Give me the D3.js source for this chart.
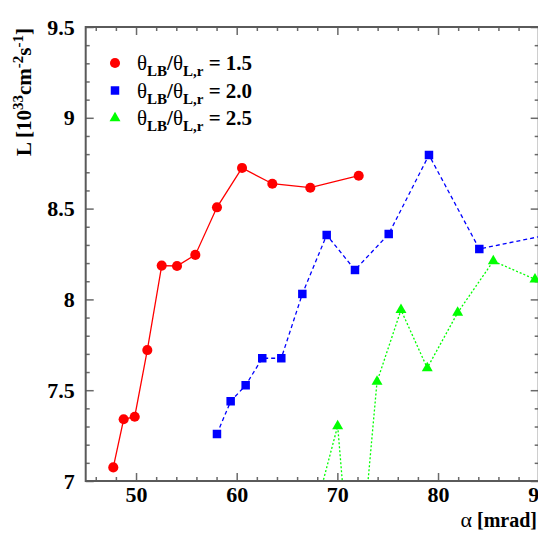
<!DOCTYPE html>
<meta charset="utf-8">
<html>
  <head>
    <script src="https://d3js.org/d3.v7.min.js"></script>
    <style>
      body { margin: 0; background: white; }
      .tick line { stroke: #6a6a6a; stroke-width: 1.5; }
    </style>
  </head>
  <body>
    <div id="chart"></div>
    <script>
      // luminosity vs crossing angle, three ratios of theta_LB / theta_L,r
      const redAlpha   = [47.74, 48.77, 49.87, 51.12, 52.55, 54.07, 55.89, 58.04, 60.53, 63.54, 67.31, 72.12];
      const redL       = [7.075, 7.34, 7.354, 7.721, 8.186, 8.184, 8.245, 8.507, 8.724, 8.637, 8.615, 8.681];
      const blueAlpha  = [58.04, 59.40, 60.89, 62.54, 64.43, 66.52, 68.94, 71.75, 75.10, 79.10, 84.10, 94.0];
      const blueL      = [7.259, 7.439, 7.527, 7.676, 7.676, 8.030, 8.355, 8.162, 8.360, 8.795, 8.278, 8.39];
      const greenAlpha = [67.3, 70.03, 71.72, 73.94, 76.32, 78.93, 81.95, 85.49, 89.63];
      const greenL     = [6.73, 7.303, 6.19, 7.547, 7.942, 7.622, 7.927, 8.211, 8.111];

      const xMajor = [50, 60, 70, 80, 90];
      const xMinor = [46, 48, 52, 54, 56, 58, 62, 64, 66, 68, 72, 74, 76, 78, 82, 84, 86, 88];
      const yMajor = [7, 7.5, 8, 8.5, 9, 9.5];
      const yMinor = [7.1, 7.2, 7.3, 7.4, 7.6, 7.7, 7.8, 7.9, 8.1, 8.2, 8.3, 8.4, 8.6, 8.7, 8.8, 8.9, 9.1, 9.2, 9.3, 9.4];
      const legendLabels = ["1.5", "2.0", "2.5"];

      const width = 538, height = 538;
      const frame = {left: 85.7, right: 538.7, top: 27, bottom: 481};
      const serif = "'Liberation Serif', 'Times New Roman', Times, 'DejaVu Serif', serif";

      const x = d3.scaleLinear().domain([45, 90]).range([frame.left, frame.right]);
      const y = d3.scaleLinear().domain([7, 9.5]).range([frame.bottom, frame.top]);

      const svg = d3.select("#chart").append("svg")
        .attr("width", width)
        .attr("height", height);

      svg.append("defs").append("clipPath").attr("id", "plotClip")
        .append("rect")
        .attr("x", frame.left).attr("y", frame.top)
        .attr("width", frame.right - frame.left)
        .attr("height", frame.bottom - frame.top);

      // ticks inside the frame, like ROOT
      function addAxis(axis, transform, showLabels) {
        const g = svg.append("g").attr("transform", transform).call(axis);
        g.select(".domain").remove();
        if (!showLabels) g.selectAll("text").remove();
        g.selectAll("text")
          .style("font-family", serif)
          .style("font-weight", "bold")
          .style("font-size", "22px")
          .attr("fill", "black");
        return g;
      }
      const noFmt = () => "";

      addAxis(d3.axisBottom(x).tickValues(xMajor).tickSizeInner(-8).tickSizeOuter(0).tickPadding(5).tickFormat(d3.format("d")),
        `translate(0,${frame.bottom})`, true);
      addAxis(d3.axisBottom(x).tickValues(xMinor).tickSizeInner(-4).tickSizeOuter(0).tickFormat(noFmt), `translate(0,${frame.bottom})`, false);
      addAxis(d3.axisTop(x).tickValues(xMajor).tickSizeInner(-8).tickSizeOuter(0).tickFormat(noFmt), `translate(0,${frame.top})`, false);
      addAxis(d3.axisTop(x).tickValues(xMinor).tickSizeInner(-4).tickSizeOuter(0).tickFormat(noFmt), `translate(0,${frame.top})`, false);

      addAxis(d3.axisLeft(y).tickValues(yMajor).tickSizeInner(-8).tickSizeOuter(0).tickPadding(11).tickFormat(d => String(d)),
        `translate(${frame.left},0)`, true);
      addAxis(d3.axisLeft(y).tickValues(yMinor).tickSizeInner(-4).tickSizeOuter(0).tickFormat(noFmt), `translate(${frame.left},0)`, false);
      addAxis(d3.axisRight(y).tickValues(yMajor).tickSizeInner(-8).tickSizeOuter(0).tickFormat(noFmt), `translate(${frame.right},0)`, false);
      addAxis(d3.axisRight(y).tickValues(yMinor).tickSizeInner(-4).tickSizeOuter(0).tickFormat(noFmt), `translate(${frame.right},0)`, false);

      svg.append("rect")
        .attr("x", frame.left).attr("y", frame.top)
        .attr("width", frame.right - frame.left)
        .attr("height", frame.bottom - frame.top)
        .attr("fill", "none")
        .attr("stroke", "#5a5a5a")
        .attr("stroke-width", 2);

      const series = [
        {alpha: redAlpha, L: redL, color: "#ff0000", dash: null, symbol: d3.symbolCircle, size: 80},
        {alpha: blueAlpha, L: blueL, color: "#0000ff", dash: "4,3", symbol: d3.symbolSquare, size: 72},
        {alpha: greenAlpha, L: greenL, color: "#00ff00", dash: "2,2", symbol: d3.symbolTriangle, size: 52},
      ];

      const line = d3.line().x(d => x(d[0])).y(d => y(d[1]));
      const plot = svg.append("g").attr("clip-path", "url(#plotClip)");

      series.forEach(s => {
        const pts = s.alpha.map((a, i) => [a, s.L[i]]);
        plot.append("path")
          .datum(pts)
          .attr("d", line)
          .attr("fill", "none")
          .attr("stroke", s.color)
          .attr("stroke-width", 1.3)
          .attr("stroke-dasharray", s.dash);
        plot.selectAll(null)
          .data(pts)
          .enter().append("path")
          .attr("d", d3.symbol().type(s.symbol).size(s.size))
          .attr("transform", d => `translate(${x(d[0])},${y(d[1])})`)
          .attr("fill", s.color);
      });

      function label(sel) {
        return sel.style("font-family", serif).style("font-weight", "bold").attr("fill", "black");
      }

      // legend
      const legend = svg.append("g");
      series.forEach((s, i) => {
        const ly = 63 + i * 27.5;
        legend.append("path")
          .attr("d", d3.symbol().type(s.symbol).size(s.size))
          .attr("transform", `translate(115,${ly})`)
          .attr("fill", s.color);
        const t = label(legend.append("text"))
          .attr("x", 137).attr("y", ly + 7)
          .style("font-size", "21px");
        t.append("tspan").style("font-weight", "normal").text("θ");
        t.append("tspan").attr("dy", 6).style("font-size", "15px").text("LB");
        t.append("tspan").attr("dy", -6).text("/");
        t.append("tspan").style("font-weight", "normal").text("θ");
        t.append("tspan").attr("dy", 6).style("font-size", "15px").text("L,r");
        t.append("tspan").attr("dy", -6).text(" = " + legendLabels[i]);
      });

      // axis titles
      const xt = label(svg.append("text"))
        .attr("x", 537).attr("y", 527)
        .attr("text-anchor", "end")
        .style("font-size", "20px");
      xt.append("tspan").style("font-weight", "normal").style("font-size", "22px").text("α");
      xt.append("tspan").text(" [mrad]");

      const yt = label(svg.append("text"))
        .attr("transform", "translate(31,28) rotate(-90)")
        .attr("text-anchor", "end")
        .style("font-size", "21px");
      yt.append("tspan").text("L [10");
      yt.append("tspan").attr("dy", -8).style("font-size", "15px").text("33");
      yt.append("tspan").attr("dy", 8).text("cm");
      yt.append("tspan").attr("dy", -8).style("font-size", "15px").text("-2");
      yt.append("tspan").attr("dy", 8).text("s");
      yt.append("tspan").attr("dy", -8).style("font-size", "15px").text("-1");
      yt.append("tspan").attr("dy", 8).text("]");
    </script>
  </body>
</html>
